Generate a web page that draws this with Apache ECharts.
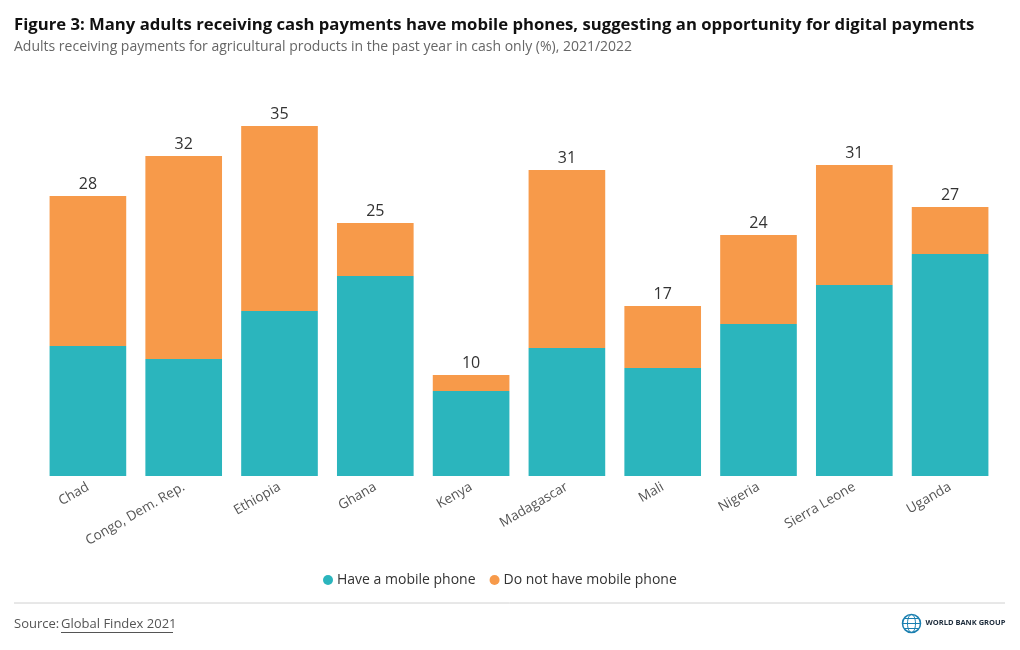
<!DOCTYPE html>
<html><head><meta charset="utf-8">
<script src="https://cdn.jsdelivr.net/npm/echarts@6/dist/echarts.min.js"></script>
<style>html,body{margin:0;padding:0;background:#fff}#c{width:1020px;height:650px}</style>
</head><body><div id="c"></div>
<script>
const categories = ['Chad','Congo, Dem. Rep.','Ethiopia','Ghana','Kenya','Madagascar','Mali','Nigeria','Sierra Leone','Uganda'];
const haveMobile = [13.0, 11.7, 16.5, 20.0, 8.5, 12.8, 10.8, 15.2, 19.1, 22.2];
const noMobile = [15.0, 20.3, 18.5, 5.3, 1.6, 17.8, 6.2, 8.9, 12.0, 4.7];
const totalLabels = [28, 32, 35, 25, 10, 31, 17, 24, 31, 27];

const FONT = '"Open Sans", "Noto Sans", sans-serif';
const chart = echarts.init(document.getElementById('c'), null, {renderer: 'canvas'});
chart.setOption({
  animation: false,
  textStyle: {fontFamily: FONT},
  title: [
    {text: 'Figure 3: Many adults receiving cash payments have mobile phones, suggesting an opportunity for digital payments',
     left: 14, top: 17, padding: 0, textStyle: {fontFamily: FONT, fontSize: 16.7, fontWeight: 'bold', color: '#111'}},
    {text: 'Adults receiving payments for agricultural products in the past year in cash only (%), 2021/2022',
     left: 14, top: 40, padding: 0, textStyle: {fontFamily: FONT, fontSize: 14, fontWeight: 'normal', color: '#666'}}
  ],
  legend: {
    top: 573, left: 323, padding: 0, icon: 'circle', itemWidth: 10, itemHeight: 10, itemGap: 14,
    textStyle: {fontFamily: FONT, fontSize: 14, color: '#333', padding: [0, 0, 0, -1]},
    data: ['Have a mobile phone', 'Do not have mobile phone']
  },
  grid: {left: 40, right: 22, top: 126, bottom: 174},
  xAxis: {
    type: 'category', data: categories,
    axisLine: {show: false}, axisTick: {show: false},
    axisLabel: {rotate: 30, fontFamily: FONT, fontSize: 13.5, color: '#555', margin: 10, interval: 0}
  },
  yAxis: {type: 'value', min: 0, max: 35, show: false, splitLine: {show: false}},
  series: [
    {name: 'Have a mobile phone', type: 'bar', stack: 't', data: haveMobile, barCategoryGap: '20%',
     itemStyle: {color: '#2BB5BD'}},
    {name: 'Do not have mobile phone', type: 'bar', stack: 't', data: noMobile,
     itemStyle: {color: '#F79A4A'},
     label: {show: true, position: 'top', distance: 4, fontFamily: FONT, fontSize: 16, color: '#333',
       formatter: p => totalLabels[p.dataIndex]}}
  ],
  graphic: [
    {type: 'line', shape: {x1: 14, y1: 603, x2: 1005, y2: 603}, style: {stroke: '#d0d0d0', lineWidth: 1}},
    {type: 'text', left: 14, top: 618, style: {text: 'Source: ', fontFamily: FONT, fontSize: 13, fill: '#555'}},
    {type: 'text', left: 61, top: 618, style: {text: 'Global Findex 2021', fontFamily: FONT, fontSize: 13, fill: '#555'}},
    {type: 'line', shape: {x1: 61, y1: 632.5, x2: 173, y2: 632.5}, style: {stroke: '#555', lineWidth: 1}},
    {type: 'group', left: 900, top: 612, children: [
      {type: 'circle', shape: {cx: 10, cy: 10, r: 9}, style: {fill: 'none', stroke: '#1a7fb0', lineWidth: 1.5}},
      {type: 'ellipse', shape: {cx: 10, cy: 10, rx: 4, ry: 9}, style: {fill: 'none', stroke: '#1a7fb0', lineWidth: 1}},
      {type: 'line', shape: {x1: 1, y1: 10, x2: 19, y2: 10}, style: {stroke: '#1a7fb0', lineWidth: 1}},
      {type: 'line', shape: {x1: 3, y1: 5, x2: 17, y2: 5}, style: {stroke: '#1a7fb0', lineWidth: 1}},
      {type: 'line', shape: {x1: 3, y1: 15, x2: 17, y2: 15}, style: {stroke: '#1a7fb0', lineWidth: 1}},
      {type: 'text', x: 24, y: 5, style: {text: 'WORLD BANK GROUP', fontFamily: FONT, fontSize: 7.5, fontWeight: 'bold', fill: '#1b2a3a'}}
    ]}
  ]
});
</script></body></html>
